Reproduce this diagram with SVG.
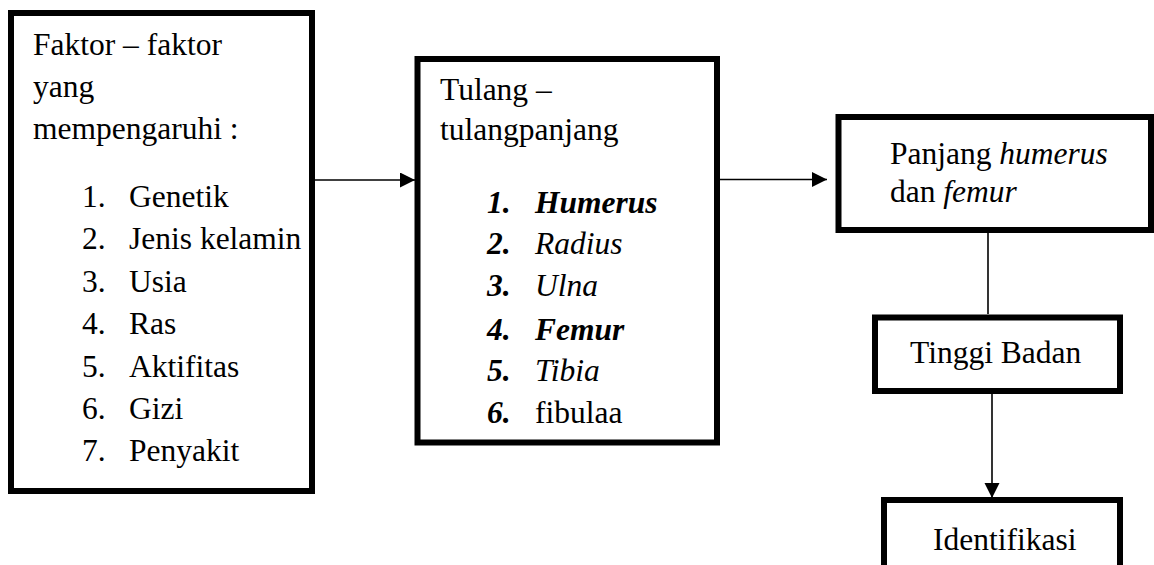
<svg xmlns="http://www.w3.org/2000/svg" width="1154" height="565" viewBox="0 0 1154 565">
<style>
.box{fill:#fff;stroke:#000;stroke-width:6}
text{font-family:"Liberation Serif","Times New Roman",serif;font-size:31.5px;fill:#000}
.i{font-style:italic}
.bi{font-style:italic;font-weight:bold}
.conn{stroke:#000;stroke-width:1.6;fill:none}
</style>
<defs>
<marker id="ah" markerUnits="userSpaceOnUse" markerWidth="16" markerHeight="16" refX="15" refY="7.5" orient="auto" viewBox="0 0 16 16">
<path d="M0,0 L15,7.5 L0,15 z" fill="#000"/>
</marker>
</defs>
<rect width="1154" height="565" fill="#fff"/>
<g id="connectors">
<line class="conn" x1="315" y1="180" x2="415" y2="180" marker-end="url(#ah)"/>
<line class="conn" x1="720" y1="179.5" x2="827" y2="179.5" marker-end="url(#ah)"/>
<line class="conn" x1="988" y1="233" x2="988" y2="314"/>
<line class="conn" x1="992" y1="394" x2="992" y2="498" marker-end="url(#ah)"/>
</g>
<g id="faktor">
<rect class="box" x="11" y="13" width="301" height="478"/>
<text x="33" y="55">Faktor – faktor</text>
<text x="33" y="97">yang</text>
<text x="33" y="139">mempengaruhi :</text>
<text x="82" y="207">1.</text><text x="129" y="207">Genetik</text>
<text x="82" y="249">2.</text><text x="129" y="249">Jenis kelamin</text>
<text x="82" y="292">3.</text><text x="129" y="292">Usia</text>
<text x="82" y="334">4.</text><text x="129" y="334">Ras</text>
<text x="82" y="377">5.</text><text x="129" y="377">Aktifitas</text>
<text x="82" y="419">6.</text><text x="129" y="419">Gizi</text>
<text x="82" y="461">7.</text><text x="129" y="461">Penyakit</text>
</g>
<g id="tulang">
<rect class="box" x="417.5" y="59" width="299.5" height="383.5"/>
<text x="440" y="100">Tulang –</text>
<text x="440" y="140">tulangpanjang</text>
<text class="bi" x="487" y="213">1.</text><text class="bi" x="535" y="213">Humerus</text>
<text class="bi" x="487" y="254">2.</text><text class="i" x="535" y="254">Radius</text>
<text class="bi" x="487" y="296">3.</text><text class="i" x="535" y="296">Ulna</text>
<text class="bi" x="487" y="340">4.</text><text class="bi" x="535" y="340">Femur</text>
<text class="bi" x="487" y="381">5.</text><text class="i" x="535" y="381">Tibia</text>
<text class="bi" x="487" y="423">6.</text><text x="535" y="423">fibulaa</text>
</g>
<g id="panjang">
<rect class="box" x="838.5" y="117" width="312.5" height="113"/>
<text x="890" y="164">Panjang <tspan class="i">humerus</tspan></text>
<text x="890" y="202">dan <tspan class="i">femur</tspan></text>
</g>
<g id="tinggi">
<rect class="box" x="875" y="317.5" width="245" height="73.5"/>
<text x="910" y="363">Tinggi Badan</text>
</g>
<g id="identifikasi">
<rect class="box" x="884" y="500" width="236" height="80"/>
<text x="933" y="550">Identifikasi</text>
</g>
</svg>
